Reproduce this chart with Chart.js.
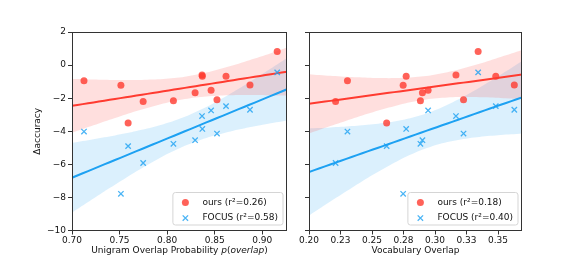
<!DOCTYPE html>
<html>
<head>
<meta charset="utf-8">
<script src="https://cdn.jsdelivr.net/npm/chart.js@4.4.1/dist/chart.umd.min.js"></script>
<style>
    html, body { margin: 0; padding: 0; background: #fff; }
    #wrap { position: relative; width: 581px; height: 259px; }
    #wrap canvas { position: absolute; left: 0; top: 0; }
</style>
</head>
<body>
<div id="wrap">
    <canvas id="left-chart" width="581" height="259"></canvas>
    <canvas id="right-chart" width="581" height="259"></canvas>
</div>
<script>
// one entry per language, same order in every array
const unigramOverlap = [0.7126, 0.7514, 0.7590, 0.7748, 0.8066, 0.8294, 0.8367, 0.8370, 0.8462, 0.8524, 0.8619, 0.8871, 0.9157];
const vocabOverlap   = [0.2305, 0.2747, 0.2616, 0.2211, 0.2884, 0.2900, 0.3166, 0.2771, 0.2945, 0.3226, 0.3482, 0.3629, 0.3342];
const oursDelta      = [-0.94, -1.22, -3.50, -2.20, -2.16, -1.68, -0.60, -0.68, -1.52, -2.10, -0.68, -1.20, 0.82];
const focusDelta     = [-4.02, -7.78, -4.90, -5.92, -4.76, -4.54, -3.08, -3.86, -2.74, -4.14, -2.48, -2.70, -0.44];

const oursR2  = ['0.26', '0.18'];   // left, right
const focusR2 = ['0.58', '0.40'];

const unigramTicks = [0.70, 0.75, 0.80, 0.85, 0.90];
const unigramTickLabels = ['0.70', '0.75', '0.80', '0.85', '0.90'];
const vocabTicks = [0.200, 0.225, 0.250, 0.275, 0.300, 0.325, 0.350];
const vocabTickLabels = ['0.20', '0.23', '0.25', '0.28', '0.30', '0.33', '0.35'];
const yTicks = [-10, -8, -6, -4, -2, 0, 2];

const RED = 'rgb(255, 59, 48)';
const BLUE = 'rgb(29, 161, 242)';
const FONT = 'DejaVu Sans';

Chart.defaults.font.family = FONT;
Chart.defaults.font.size = 9;
Chart.defaults.color = '#111';

// least squares fit with a band around the mean (a bit wider than t, like the bootstrap one)
function fitLine(xs, ys) {
    const n = xs.length;
    const mx = xs.reduce((a, b) => a + b, 0) / n;
    const my = ys.reduce((a, b) => a + b, 0) / n;
    let sxx = 0, sxy = 0;
    xs.forEach((x, i) => { sxx += (x - mx) ** 2; sxy += (x - mx) * (ys[i] - my); });
    const slope = sxy / sxx;
    const icpt = my - slope * mx;
    let sse = 0;
    xs.forEach((x, i) => { sse += (ys[i] - icpt - slope * x) ** 2; });
    const s = Math.sqrt(sse / (n - 2));
    return {
        at: x => icpt + slope * x,
        half: x => 2.6 * s * Math.sqrt(1 / n + (x - mx) ** 2 / sxx)
    };
}

function fitDatasets(xs, ys, xMin, xMax, color, fillColor) {
    const fit = fitLine(xs, ys);
    const steps = 40;
    const grid = [];
    for (let i = 0; i <= steps; i++) grid.push(xMin + (xMax - xMin) * i / steps);
    return {
        line: {
            type: 'line', data: grid.map(x => ({ x, y: fit.at(x) })),
            borderColor: color, borderWidth: 2, pointRadius: 0, fill: false
        },
        upper: {
            type: 'line', data: grid.map(x => ({ x, y: fit.at(x) + fit.half(x) })),
            borderWidth: 0, pointRadius: 0, fill: false, tension: 0.3
        },
        lower: {
            type: 'line', data: grid.map(x => ({ x, y: fit.at(x) - fit.half(x) })),
            borderWidth: 0, pointRadius: 0, fill: '-1', backgroundColor: fillColor, tension: 0.3
        }
    };
}

// frame, legend box and the mixed-style x title
const panelPlugin = {
    id: 'panel',
    afterDraw(chart, args, opts) {
        const { ctx, chartArea: a } = chart;
        ctx.save();
        ctx.strokeStyle = '#333';
        ctx.lineWidth = 1;
        ctx.strokeRect(Math.round(a.left) + 0.5, Math.round(a.top) + 0.5,
            Math.round(a.right - a.left) - 1, Math.round(a.bottom - a.top) - 1);

        // legend
        ctx.font = `9px "${FONT}"`;
        const w = Math.max(...opts.legend.map(l => ctx.measureText(l.text).width));
        const boxW = 29.5 + w + 5, boxH = 32.5;
        const bx = a.right - 4 - boxW, by = a.bottom - 5.5 - boxH;
        ctx.beginPath();
        ctx.roundRect(bx, by, boxW, boxH, 2.5);
        ctx.fillStyle = 'rgba(255,255,255,0.8)';
        ctx.fill();
        ctx.strokeStyle = '#d5d5d5';
        ctx.lineWidth = 1;
        ctx.stroke();
        opts.legend.forEach((l, i) => {
            const cy = by + 10 + i * 15.6;
            const cx = bx + 12.5;
            if (l.marker === 'circle') {
                ctx.beginPath();
                ctx.arc(cx, cy, 3.5, 0, Math.PI * 2);
                ctx.fillStyle = l.color;
                ctx.fill();
            } else {
                ctx.beginPath();
                ctx.moveTo(cx - 2.7, cy - 2.7); ctx.lineTo(cx + 2.7, cy + 2.7);
                ctx.moveTo(cx - 2.7, cy + 2.7); ctx.lineTo(cx + 2.7, cy - 2.7);
                ctx.strokeStyle = l.color;
                ctx.lineWidth = 1.3;
                ctx.stroke();
            }
            ctx.fillStyle = '#111';
            ctx.textBaseline = 'middle';
            ctx.textAlign = 'left';
            ctx.fillText(l.text, bx + 29.5, cy);
        });

        // x title with italic parts
        if (opts.title) {
            const parts = opts.title;
            const fontOf = p => `${p.italic ? 'italic ' : ''}9px "${FONT}"`;
            let total = 0;
            parts.forEach(p => { ctx.font = fontOf(p); total += ctx.measureText(p.text).width; });
            let x = (a.left + a.right) / 2 - total / 2;
            ctx.textBaseline = 'middle';
            ctx.fillStyle = '#111';
            parts.forEach(p => {
                ctx.font = fontOf(p);
                ctx.fillText(p.text, x, 250.5);
                x += ctx.measureText(p.text).width;
            });
        }
        ctx.restore();
    }
};

function minusFmt(v) {
    return v < 0 ? '\u2212' + Math.abs(v) : String(v);
}

function makePanel(canvasId, xs, xMin, xMax, ticks, tickLabels, side) {
    const oursFit = fitDatasets(xs, oursDelta, xMin, xMax, RED, 'rgba(255, 59, 48, 0.16)');
    const focusFit = fitDatasets(xs, focusDelta, xMin, xMax, BLUE, 'rgba(29, 161, 242, 0.16)');
    const isLeft = side === 0;

    const datasets = [
        {
            label: 'FOCUS', data: xs.map((x, i) => ({ x, y: focusDelta[i] })),
            pointStyle: 'crossRot', pointRadius: 3.8, pointBorderWidth: 1.3,
            pointBorderColor: 'rgba(29, 161, 242, 0.8)', pointBackgroundColor: 'rgba(29, 161, 242, 0.8)'
        },
        {
            label: 'ours', data: xs.map((x, i) => ({ x, y: oursDelta[i] })),
            pointStyle: 'circle', pointRadius: 3.5, pointBorderWidth: 0,
            pointBackgroundColor: 'rgba(255, 59, 48, 0.8)'
        },
        focusFit.line,
        oursFit.line,
        oursFit.upper, oursFit.lower,
        focusFit.upper, focusFit.lower
    ];

    return new Chart(document.getElementById(canvasId), {
        type: 'scatter',
        data: { datasets },
        options: {
            responsive: false,
            animation: false,
            events: [],
            layout: {
                padding: isLeft ? { top: 32, right: 294, bottom: 0, left: 0 }
                                : { top: 32, right: 59, bottom: 0, left: 0 }
            },
            plugins: {
                legend: { display: false },
                tooltip: { enabled: false },
                panel: {
                    legend: [
                        { marker: 'circle', color: 'rgba(255, 59, 48, 0.8)', text: `ours (r\u00b2=${oursR2[side]})` },
                        { marker: 'cross', color: 'rgba(29, 161, 242, 0.8)', text: `FOCUS (r\u00b2=${focusR2[side]})` }
                    ],
                    title: isLeft ? [
                        { text: 'Unigram Overlap Probability ', italic: false },
                        { text: 'p', italic: true },
                        { text: '(', italic: false },
                        { text: 'overlap', italic: true },
                        { text: ')', italic: false }
                    ] : null
                }
            },
            scales: {
                x: {
                    type: 'linear', min: xMin, max: xMax,
                    border: { display: false },
                    grid: { drawOnChartArea: false, drawTicks: true, tickLength: 4, color: '#333' },
                    ticks: {
                        autoSkip: false, maxRotation: 0, padding: 1,
                        callback: (v, i) => tickLabels[i]
                    },
                    afterBuildTicks: s => { s.ticks = ticks.map(v => ({ value: v })); },
                    afterFit: s => { s.height = 28.5; },
                    title: {
                        display: !isLeft, text: 'Vocabulary Overlap',
                        padding: { top: 0, bottom: 3 }
                    }
                },
                y: {
                    type: 'linear', min: -10, max: 2,
                    border: { display: false },
                    grid: { drawOnChartArea: false, drawTicks: true, tickLength: 4, color: '#333' },
                    ticks: {
                        padding: 2,
                        callback: v => isLeft ? minusFmt(v) : ''
                    },
                    afterBuildTicks: s => { s.ticks = yTicks.map(v => ({ value: v })); },
                    afterFit: s => { s.width = isLeft ? 72 : 309; },
                    title: {
                        display: isLeft, text: '\u0394accuracy',
                        padding: { top: 32, bottom: 0 }
                    }
                }
            }
        },
        plugins: [panelPlugin]
    });
}

makePanel('left-chart', unigramOverlap, 0.70, 0.926, unigramTicks, unigramTickLabels, 0);
makePanel('right-chart', vocabOverlap, 0.20, 0.369, vocabTicks, vocabTickLabels, 1);
</script>
</body>
</html>
